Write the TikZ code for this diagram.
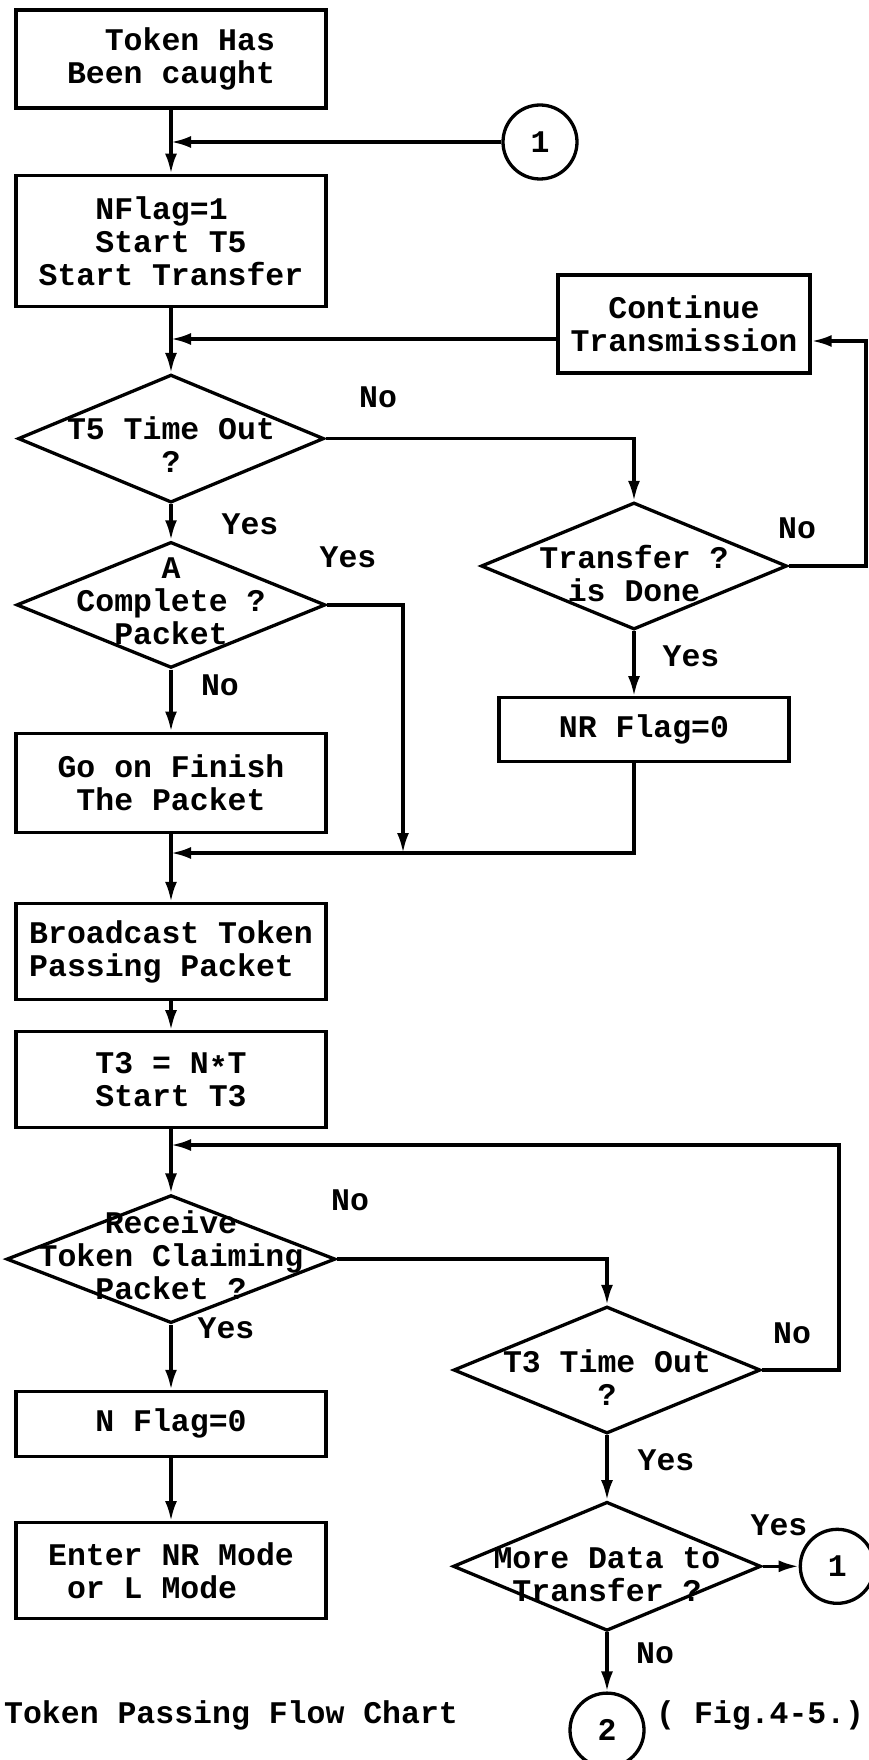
\documentclass[tikz,border=0pt]{standalone}
\usepackage{fontspec}
\setmainfont{Liberation Mono}
\usetikzlibrary{positioning, arrows.meta, shapes.geometric}
\tikzset{
  box/.style={draw, line width=3.3pt, minimum width=310pt, align=center, inner sep=0pt},
  dec/.style={draw, diamond, line width=3.3pt, inner sep=0pt, minimum width=307pt, minimum height=127pt},
  dtxt/.style={align=center, inner sep=0pt},
  conn/.style={draw, circle, line width=3.3pt, minimum size=74pt, inner sep=0pt},
  lbl/.style={inner sep=0pt},
  arr/.style={-{Latex[length=20pt, width=12pt]}, line width=3.3pt},
}

\begin{document}
\begin{tikzpicture}[x=1pt, y=-1pt, font=\fontsize{31.5}{33}\selectfont\bfseries]
\useasboundingbox (0,0) rectangle (868,1760);
% left column
\node[box, minimum height=98pt] (caught) at (171,59) {\hphantom{Be}Token Has\\Been caught};
\node[box, minimum height=131pt, align=left, below=64pt of caught] (start) {\hphantom{Sta}NFlag=1\\\hphantom{Sta}Start T5\\Start Transfer};
\node[dec, minimum width=306pt, minimum height=128pt, below=65pt of start] (tfive) {};
\node[dtxt] (tfivet) at ([yshift=-6pt]tfive.center) {T5 Time Out\\?};
\node[dec, minimum width=309pt, minimum height=126pt, below=36pt of tfive] (cpkt) {};
\node[dtxt] (cpktt) at ([yshift=4pt]cpkt.center) {A\\Complete ?\\Packet};
\node[box, minimum height=99pt, align=left, below=62pt of cpkt] (goon) {Go on Finish\\\hphantom{G}The Packet};
\node[box, minimum height=96pt, align=left, below=68pt of goon] (bcast) {Broadcast Token\\Passing Packet};
\node[box, minimum height=96pt, below=29pt of bcast] (tthree) {T3 = N\raisebox{-0.15em}{*}T\\Start T3};
\node[dec, minimum width=329pt, minimum height=128pt, below=64pt of tthree] (recv) {};
\node[dtxt] (recvt) at ([yshift=4pt]recv.center) {Receive\\Token Claiming\\Packet ?};
\node[box, minimum height=65pt, below=65pt of recv] (nflag) {N Flag=0};
\node[box, minimum height=96pt, align=left, below=63pt of nflag] (enter) {Enter NR Mode\\\hphantom{E}or L Mode};
% right column
\node[conn] (one) at (540,142) {1};
\node[box, minimum width=252pt, minimum height=98pt] (cont) at (684,324) {Continue\\Transmission};
\node[dec, minimum width=306pt] (done) at (634,566) {};
\node[dtxt] (donet) at ([yshift=-8pt]done.center) {Transfer ?\\is Done};
\node[box, minimum width=290pt, minimum height=64pt, below=65pt of done, xshift=10pt] (nr) {NR Flag=0};
\node[dec] (tout) at (607,1370) {};
\node[dtxt] (toutt) at ([yshift=-8pt]tout.center) {T3 Time Out\\?};
\node[dec, minimum width=308pt, minimum height=129pt, below=65pt of tout] (more) {};
\node[dtxt] (moret) at ([yshift=-8pt]more.center) {More Data to\\Transfer ?};
\node[conn, right=36pt of more] (oneb) {1};
\node[conn, below=59pt of more] (two) {2};
\coordinate (merge) at (403,853);
\coordinate (back) at (866,566);
\coordinate (loop) at (839,1145);
% labels
\node[lbl] (l1) at (378,397) {No};
\node[lbl] (l2) at (250,524) {Yes};
\node[lbl] (l3) at (348,557) {Yes};
\node[lbl] (l4) at (220,685) {No};
\node[lbl] (l5) at (797,528) {No};
\node[lbl] (l6) at (691,656) {Yes};
\node[lbl] (l7) at (350,1200) {No};
\node[lbl] (l8) at (226,1328) {Yes};
\node[lbl] (l9) at (792,1333) {No};
\node[lbl] (l10) at (666,1460) {Yes};
\node[lbl] (l11) at (779,1525) {Yes};
\node[lbl] (l12) at (655,1653) {No};
\node[lbl, anchor=west] (title) at (4,1715) {Token Passing Flow Chart};
\node[lbl, anchor=west] (fig) at (656,1715) {( Fig.4-5.)};
% connectors
\draw[arr] (caught) -- (start);
\draw[arr] (one) -- (one -| caught);
\draw[arr] (start) -- (tfive);
\draw[arr] ([yshift=-15pt]cont.west) -- ([yshift=-15pt]cont.west -| start);
\draw[arr] (tfive.east) -| (done.north);
\draw[arr] (tfive) -- (cpkt);
\draw[arr] (cpkt.east) -| (merge);
\draw[arr] (cpkt) -- (goon);
\draw[arr] (done.east) -- (back) |- ([yshift=-17pt]cont.east);
\draw[arr] (done.south) -- (done.south |- nr.north);
\draw[arr] (done |- nr.south) |- (merge -| goon);
\draw[arr] (goon) -- (bcast);
\draw[arr] (bcast) -- (tthree);
\draw[arr] (tthree) -- (recv);
\draw[arr] (recv.east) -| (tout.north);
\draw[arr] (recv) -- (nflag);
\draw[arr] (tout.east) -| (loop) -- (loop -| tthree);
\draw[arr] (tout) -- (more);
\draw[arr] (more) -- (oneb);
\draw[arr] (more) -- (two);
\draw[arr] (nflag) -- (enter);
\end{tikzpicture}
\end{document}
